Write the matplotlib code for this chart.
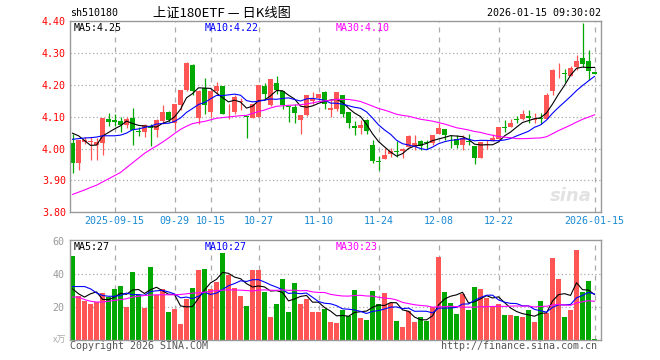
import matplotlib
matplotlib.use('Agg')
import matplotlib.pyplot as plt
import numpy as np
import pandas as pd

# daily candles, 2025-09-04 .. 2026-01-15 (88 trading days)
open_ = [4.016, 3.955, 4.022, 4.020, 4.011, 4.018, 4.092, 4.089, 4.086, 4.073,
         4.095, 4.056, 4.052, 4.070, 4.059, 4.085, 4.115, 4.080, 4.135, 4.185,
         4.263, 4.097, 4.190, 4.115, 4.180, 4.195, 4.110, 4.115, 4.146, 4.103,
         4.097, 4.100, 4.195, 4.135, 4.207, 4.180, 4.133, 4.130, 4.088, 4.104,
         4.150, 4.160, 4.177, 4.120, 4.123, 4.167, 4.115, 4.070, 4.063, 4.089,
         4.010, 3.960, 3.967, 3.984, 3.993, 3.992, 4.005, 4.005, 4.023, 4.020,
         4.016, 4.045, 4.062, 4.037, 4.029, 4.010, 4.024, 4.007, 3.969, 4.010,
         4.024, 4.031, 4.066, 4.066, 4.093, 4.092, 4.103, 4.091, 4.097, 4.094,
         4.182, 4.248, 4.235, 4.229, 4.257, 4.284, 4.274, 4.240]
close = [3.955, 4.026, 4.027, 4.025, 4.021, 4.096, 4.083, 4.083, 4.074, 4.094,
         4.059, 4.053, 4.073, 4.065, 4.088, 4.115, 4.089, 4.139, 4.185, 4.268,
         4.180, 4.180, 4.135, 4.180, 4.195, 4.109, 4.112, 4.163, 4.150, 4.100,
         4.139, 4.200, 4.170, 4.217, 4.184, 4.135, 4.131, 4.111, 4.104, 4.167,
         4.155, 4.172, 4.139, 4.128, 4.177, 4.109, 4.080, 4.063, 4.073, 4.055,
         3.961, 3.958, 3.979, 3.993, 3.990, 4.000, 4.039, 4.018, 4.007, 4.016,
         4.044, 4.065, 4.042, 4.035, 4.010, 4.034, 4.021, 3.969, 4.021, 4.014,
         4.034, 4.066, 4.064, 4.080, 4.091, 4.107, 4.096, 4.094, 4.094, 4.167,
         4.247, 4.250, 4.233, 4.252, 4.276, 4.266, 4.243, 4.235]
high = [4.045, 4.026, 4.035, 4.035, 4.033, 4.096, 4.111, 4.107, 4.099, 4.100,
        4.126, 4.068, 4.078, 4.078, 4.092, 4.135, 4.117, 4.139, 4.185, 4.271,
        4.265, 4.185, 4.221, 4.185, 4.210, 4.197, 4.139, 4.167, 4.160, 4.103,
        4.140, 4.200, 4.205, 4.219, 4.226, 4.182, 4.133, 4.139, 4.105, 4.167,
        4.177, 4.172, 4.182, 4.153, 4.177, 4.167, 4.115, 4.086, 4.089, 4.092,
        4.026, 3.976, 4.003, 4.003, 4.024, 4.003, 4.042, 4.044, 4.028, 4.028,
        4.044, 4.080, 4.062, 4.042, 4.044, 4.044, 4.047, 4.007, 4.021, 4.028,
        4.045, 4.066, 4.089, 4.093, 4.101, 4.122, 4.122, 4.111, 4.111, 4.174,
        4.250, 4.268, 4.250, 4.260, 4.292, 4.395, 4.309, 4.240]
low = [3.924, 3.932, 4.015, 3.965, 3.963, 3.979, 4.071, 4.070, 4.052, 4.065,
       4.012, 4.040, 4.036, 4.009, 4.036, 4.078, 4.084, 4.060, 4.120, 4.180,
       4.167, 4.078, 4.107, 4.100, 4.172, 4.107, 4.094, 4.107, 4.120, 4.033,
       4.095, 4.099, 4.153, 4.133, 4.172, 4.125, 4.083, 4.080, 4.045, 4.101,
       4.140, 4.156, 4.125, 4.100, 4.118, 4.100, 4.065, 4.044, 4.047, 4.045,
       3.955, 3.934, 3.967, 3.972, 3.974, 3.969, 4.005, 3.995, 3.995, 3.997,
       4.010, 4.045, 4.028, 4.003, 4.003, 3.995, 4.010, 3.953, 3.969, 4.000,
       4.024, 4.031, 4.052, 4.066, 4.080, 4.089, 4.080, 4.080, 4.078, 4.094,
       4.167, 4.222, 4.208, 4.226, 4.247, 4.255, 4.216, 4.235]
# volume, x10k
volume = [51.0, 26.8, 23.4, 21.6, 23.0, 28.2, 26.0, 31.2, 33.0, 20.0,
          41.4, 27.4, 19.2, 44.4, 27.4, 30.8, 16.8, 18.6, 9.6, 24.6,
          31.8, 42.2, 43.2, 31.2, 35.4, 52.8, 39.4, 31.8, 26.4, 20.4,
          42.6, 42.6, 28.8, 14.0, 21.6, 37.2, 16.8, 34.8, 21.6, 24.6,
          16.8, 16.8, 18.6, 10.8, 10.2, 18.0, 14.4, 30.0, 13.2, 12.0,
          29.4, 21.6, 28.2, 22.2, 11.4, 7.8, 17.4, 10.8, 13.8, 11.4,
          19.8, 50.4, 28.8, 22.2, 15.6, 27.6, 18.0, 32.4, 31.2, 25.2,
          20.4, 21.6, 15.0, 15.0, 14.4, 13.8, 18.0, 10.8, 23.4, 16.2,
          49.8, 37.2, 13.8, 18.0, 54.6, 28.8, 36.0, 0.6]

# moving-average values before enough days are in the window
ma5_head = [4.048, 4.040, 4.025, 4.010]
ma10_head = [4.029, 4.031, 4.033, 4.034, 4.036, 4.040, 4.040, 4.040, 4.042]
ma30_head = [3.856, 3.863, 3.870, 3.878, 3.885, 3.895, 3.905, 3.915, 3.925, 3.940,
             3.955, 3.970, 3.985, 3.997, 4.008, 4.020, 4.033, 4.047, 4.060, 4.070,
             4.078, 4.082, 4.085, 4.090, 4.095, 4.097, 4.099, 4.101, 4.103]
vma5_head = [31.0, 28.0, 26.0, 28.0]
vma10_head = [32.4, 32.4, 32.4, 31.0, 28.5, 27.0, 26.5, 26.5, 27.0]
vma30_head = [26.0, 26.0, 24.5, 23.5, 23.0, 23.0, 23.5, 24.0, 24.5, 25.0,
              26.0, 26.5, 27.0, 27.2, 27.4, 27.4, 27.4, 27.4, 27.6, 28.0,
              28.4, 28.6, 29.0, 29.5, 30.0, 30.2, 30.4, 30.3, 30.2]

tick_idx = [7, 17, 23, 31, 41, 51, 61, 71, 87]
tick_labels = ['2025-09-15', '09-29', '10-15', '10-27', '11-10', '11-24',
               '12-08', '12-22', '2026-01-15']
price_ticks = [3.8, 3.9, 4.0, 4.1, 4.2, 4.3, 4.4]
vol_ticks = [20, 40, 60]

RED = '#ff5555'
GREEN = '#00a800'
GRID = '#aaaaaa'
MONO = 'DejaVu Sans Mono'
FS = 7.2


def ma(values, n, head):
    s = pd.Series(values).rolling(n).mean().to_numpy()
    s[:n - 1] = head
    return s


W, H = 660, 360


def box(l, t, r, b):
    return [l / W, 1 - b / H, (r - l) / W, (b - t) / H]


def ftext(x, y, s, **kw):
    fig.text(x / W, 1 - y / H, s, va='center', **kw)


fig = plt.figure(figsize=(6.6, 3.6), dpi=100)
ax1 = fig.add_axes(box(70, 21, 601, 212.3))
ax2 = fig.add_axes(box(70, 240, 601, 340))

o = np.array(open_)
c = np.array(close)
x = np.arange(len(c))
cols = np.where(c >= o, RED, GREEN)

# candles
ax1.vlines(x, low, high, colors=cols, linewidth=0.9, zorder=2)
ax1.bar(x, np.maximum(np.abs(c - o), 0.0025), bottom=np.minimum(o, c),
        width=0.8, color=cols, linewidth=0, zorder=2)
ax1.plot(x, ma(close, 5, ma5_head), color='black', lw=0.8, zorder=3)
ax1.plot(x, ma(close, 10, ma10_head), color='#0000ff', lw=0.8, zorder=3)
ax1.plot(x, ma(close, 30, ma30_head), color='#ff00ff', lw=0.8, zorder=3)

# volume
ax2.bar(x, volume, width=0.8, color=cols, linewidth=0, zorder=2)
ax2.plot(x, ma(volume, 5, vma5_head), color='black', lw=0.8, zorder=3)
ax2.plot(x, ma(volume, 10, vma10_head), color='#0000ff', lw=0.8, zorder=3)
ax2.plot(x, ma(volume, 30, vma30_head), color='#ff00ff', lw=0.8, zorder=3)

for ax in (ax1, ax2):
    ax.set_xlim(-0.42, 88.08)
    for t in tick_idx:
        ax.axvline(t, color=GRID, lw=0.9, ls=(0, (4, 4)), zorder=1)
    for s in ax.spines.values():
        s.set_color('#999999')
        s.set_linewidth(1.0)

ax1.set_ylim(3.8, 4.4)
for y in price_ticks[1:-1]:
    ax1.axhline(y, color=GRID, lw=0.9, ls=(0, (1, 2)), zorder=1)
ax1.set_yticks(price_ticks, ['%.2f' % p for p in price_ticks])
ax1.set_xticks(tick_idx, tick_labels)
ax1.tick_params(axis='y', length=0, pad=3, labelcolor='#ff0000', labelsize=FS)
ax1.tick_params(axis='x', length=0, pad=3, labelcolor='#1a8ad4', labelsize=FS)
for lab in ax1.get_xticklabels() + ax1.get_yticklabels():
    lab.set_family(MONO)

ax2.set_ylim(0, 60.6)
for y in [20, 40]:
    ax2.axhline(y, color=GRID, lw=0.9, ls=(0, (1, 2)), zorder=1)
ax2.set_yticks(vol_ticks, [str(v) for v in vol_ticks])
ax2.set_xticks([])
ax2.tick_params(axis='y', length=0, pad=4, labelcolor='#999999', labelsize=FS)
for lab in ax2.get_yticklabels():
    lab.set_family(MONO)

# header
ftext(70, 13, 'sh510180', family=MONO, fontsize=FS, color='black')
ftext(153, 13, '上证180ETF — 日K线图', family=['Noto Sans CJK SC', 'DejaVu Sans'],
      fontsize=9.5, color='black')
ftext(601, 13, '2026-01-15 09:30:02', family=MONO, fontsize=FS, color='black', ha='right')

# MA legends
ftext(74, 28, 'MA5:4.25', family=MONO, fontsize=FS, color='black')
ftext(205, 28, 'MA10:4.22', family=MONO, fontsize=FS, color='#0000ff')
ftext(336, 28, 'MA30:4.10', family=MONO, fontsize=FS, color='#ff00ff')
ftext(74, 247, 'MA5:27', family=MONO, fontsize=FS, color='black')
ftext(205, 247, 'MA10:27', family=MONO, fontsize=FS, color='#0000ff')
ftext(336, 247, 'MA30:23', family=MONO, fontsize=FS, color='#ff00ff')

# watermark and footer
ftext(592, 196, 'sina', family='DejaVu Sans', fontsize=13, color='#e2e2e2',
      ha='right', style='italic', weight='bold')
ftext(66, 340, 'x万', family=['Noto Sans CJK SC', 'DejaVu Sans'], fontsize=6.5,
      color='#aaaaaa', ha='right')
ftext(70, 346, 'Copyright 2026 SINA.COM', family=MONO, fontsize=FS, color='#555555')
ftext(597, 346, 'http://finance.sina.com.cn', family=MONO, fontsize=FS,
      color='#555555', ha='right')

fig.savefig('out.png', dpi=100)
